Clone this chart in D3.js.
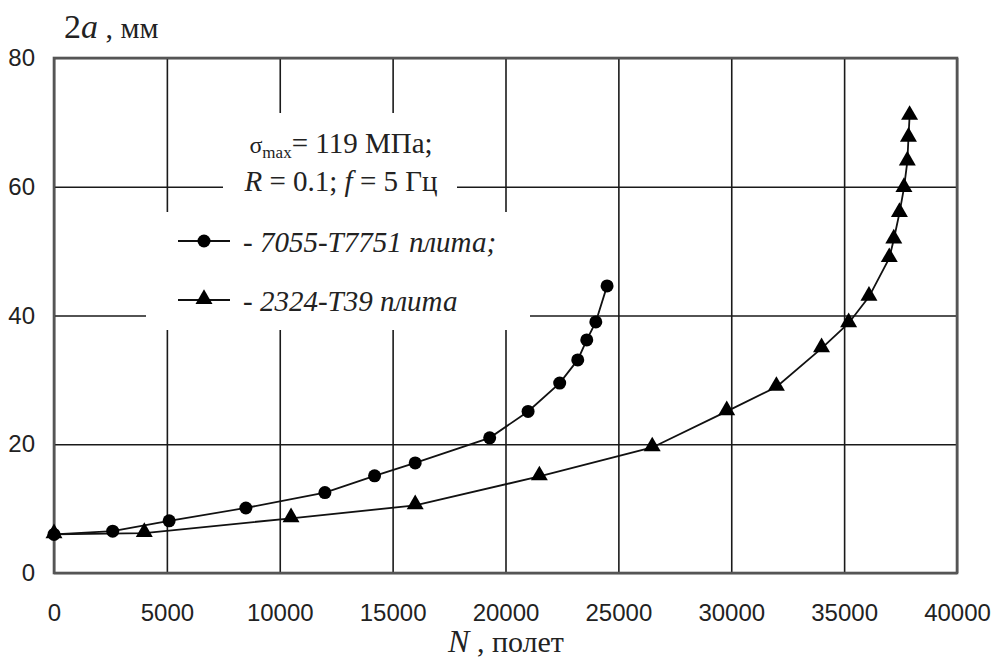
<!DOCTYPE html>
<html>
<head>
<meta charset="utf-8">
<script src="https://cdn.jsdelivr.net/npm/d3@7"></script>
<style>
  body { margin: 0; background: #fff; }
  svg { display: block; }
</style>
</head>
<body>
<div id="chart"></div>
<script>
// 7055-T7751 plate (circles)
var nAl7055 = [0, 2600, 5100, 8500, 12000, 14200, 16000, 19300, 21000, 22400, 23200, 23600, 24000, 24500];
var a7055 = [6, 6.5, 8.1, 10.1, 12.5, 15.1, 17.1, 21, 25.1, 29.5, 33.1, 36.2, 39, 44.6];
// 2324-T39 plate (triangles)
var nAl2324 = [0, 4000, 10500, 16000, 21500, 26500, 29800, 32000, 34000, 35200, 36100, 37000, 37200, 37450, 37650, 37800, 37850, 37900];
var a2324 = [6, 6.2, 8.5, 10.5, 15, 19.5, 25.1, 28.9, 34.9, 38.8, 42.9, 48.9, 51.8, 55.9, 59.8, 63.9, 67.6, 71];

var xTicks = [0, 5000, 10000, 15000, 20000, 25000, 30000, 35000, 40000];
var yTicks = [0, 20, 40, 60, 80];
var legendLabels = ["- 7055-T7751 плита;", "- 2324-T39 плита"];

var width = 992, height = 661;
var margin = {top: 58, right: 35, bottom: 88, left: 54};
var w = width - margin.left - margin.right;
var h = height - margin.top - margin.bottom;

var svg = d3.select("#chart").append("svg")
    .attr("width", width).attr("height", height);
var g = svg.append("g").attr("transform", "translate(" + margin.left + "," + margin.top + ")");

var x = d3.scaleLinear().domain([0, 40000]).range([0, w]);
var y = d3.scaleLinear().domain([0, 80]).range([h, 0]);

// grid
g.append("g").attr("class", "grid")
    .attr("transform", "translate(0," + h + ")")
    .call(d3.axisBottom(x).tickValues(xTicks).tickSize(-h).tickFormat(""));
g.append("g").attr("class", "grid")
    .call(d3.axisLeft(y).tickValues(yTicks).tickSize(-w).tickFormat(""));
g.selectAll(".grid .domain").remove();
g.selectAll(".grid line").attr("stroke", "#1a1a1a").attr("stroke-width", 1.6);

// white boxes behind the notes
g.append("rect").attr("x", 223 - margin.left).attr("y", 113 - margin.top)
    .attr("width", 234).attr("height", 100).attr("fill", "#fff");
g.append("rect").attr("x", 146 - margin.left).attr("y", 212 - margin.top)
    .attr("width", 384).attr("height", 118).attr("fill", "#fff");

// frame
g.append("rect").attr("width", w).attr("height", h)
    .attr("fill", "none").attr("stroke", "#555").attr("stroke-width", 2.6);

// tick labels
var xAxis = g.append("g").attr("transform", "translate(0," + h + ")")
    .call(d3.axisBottom(x).tickValues(xTicks).tickSize(0).tickPadding(31).tickFormat(d3.format("d")));
var yAxis = g.append("g")
    .call(d3.axisLeft(y).tickValues(yTicks).tickSize(0).tickPadding(19).tickFormat(d3.format("d")));
svg.selectAll(".domain").remove();
svg.selectAll(".tick text")
    .attr("font-family", "'Liberation Sans', Arial, sans-serif")
    .attr("font-size", 24).attr("fill", "#222");

// series
var line = d3.line().x(function(d) { return x(d[0]); }).y(function(d) { return y(d[1]); });
var s1 = d3.zip(nAl7055, a7055);
var s2 = d3.zip(nAl2324, a2324);

g.append("path").datum(s1).attr("d", line)
    .attr("fill", "none").attr("stroke", "#111").attr("stroke-width", 1.8);
g.append("path").datum(s2).attr("d", line)
    .attr("fill", "none").attr("stroke", "#111").attr("stroke-width", 1.8);

var tri = d3.symbol().type(d3.symbolTriangle).size(125);

g.selectAll("circle.p1").data(s1).enter().append("circle")
    .attr("cx", function(d) { return x(d[0]); })
    .attr("cy", function(d) { return y(d[1]); })
    .attr("r", 6.5).attr("fill", "#000");
g.selectAll("path.p2").data(s2).enter().append("path")
    .attr("d", tri)
    .attr("transform", function(d) { return "translate(" + x(d[0]) + "," + (y(d[1]) - 1) + ")"; })
    .attr("fill", "#000");

// legend
var serif = "'Liberation Serif', 'Times New Roman', serif";
var legY = [241, 300];
legY.forEach(function(ly, i) {
    svg.append("line").attr("x1", 178).attr("x2", 230).attr("y1", ly).attr("y2", ly)
        .attr("stroke", "#111").attr("stroke-width", 2);
    if (i == 0) {
        svg.append("circle").attr("cx", 204).attr("cy", ly).attr("r", 6.5).attr("fill", "#000");
    } else {
        svg.append("path").attr("d", tri).attr("transform", "translate(204," + (ly - 1) + ")").attr("fill", "#000");
    }
    svg.append("text").attr("x", 243).attr("y", ly + 11)
        .attr("font-family", serif).attr("font-style", "italic").attr("font-size", 29)
        .attr("fill", "#222").text(legendLabels[i]);
});

// conditions note
var t1 = svg.append("text").attr("x", 341).attr("y", 153).attr("text-anchor", "middle")
    .attr("font-family", serif).attr("font-size", 29).attr("fill", "#222");
t1.append("tspan").attr("font-size", 24).text("σ");
t1.append("tspan").attr("font-size", 17).attr("dy", 5).text("max");
t1.append("tspan").attr("dy", -5).text("= 119 МПа;");

var t2 = svg.append("text").attr("x", 341).attr("y", 191).attr("text-anchor", "middle")
    .attr("font-family", serif).attr("font-size", 29).attr("fill", "#222");
t2.append("tspan").attr("font-style", "italic").text("R");
t2.append("tspan").text(" = 0.1; ");
t2.append("tspan").attr("font-style", "italic").text("f");
t2.append("tspan").text(" = 5 Гц");

// axis titles
var yt = svg.append("text").attr("x", 64).attr("y", 38)
    .attr("font-family", serif).attr("font-size", 34).attr("fill", "#222");
yt.append("tspan").text("2");
yt.append("tspan").attr("font-style", "italic").text("a");
yt.append("tspan").attr("font-size", 30).text(" , мм");

var xt = svg.append("text").attr("x", 506).attr("y", 652).attr("text-anchor", "middle")
    .attr("font-family", serif).attr("font-size", 32).attr("fill", "#222");
xt.append("tspan").attr("font-style", "italic").text("N");
xt.append("tspan").attr("font-size", 30).text(" , полет");
</script>
</body>
</html>
